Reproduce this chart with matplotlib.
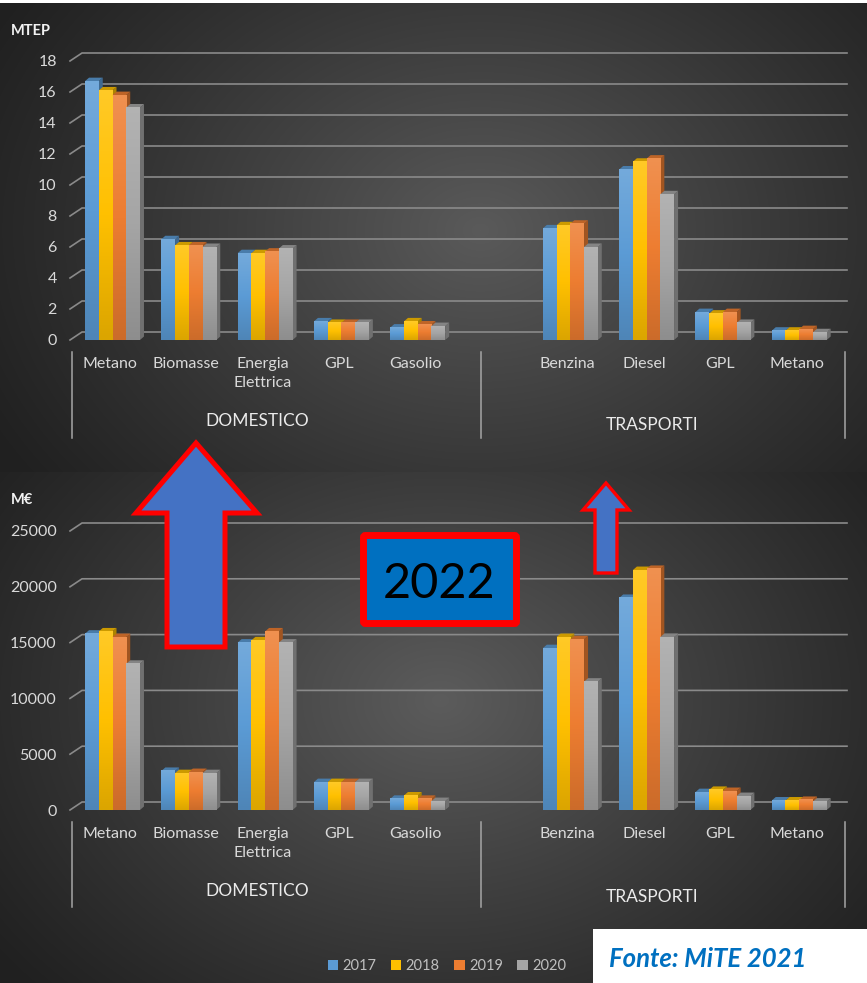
import numpy as np
import matplotlib
matplotlib.use("Agg")
import matplotlib.pyplot as plt
from matplotlib.patches import Polygon, Rectangle, FancyBboxPatch
from matplotlib.colors import LinearSegmentedColormap, to_rgb

plt.rcParams['font.family'] = ['Lato', 'DejaVu Sans']

# ---------------------------------------------------------------- data
categories = ["Metano", "Biomasse", "Energia\nElettrica", "GPL", "Gasolio",
              "Benzina", "Diesel", "GPL", "Metano"]
groups = ["DOMESTICO", "TRASPORTI"]
years = ["2017", "2018", "2019", "2020"]

# energy consumption (MTEP)
mtep_2017 = [16.7, 6.5, 5.6, 1.2, 0.8, 7.2, 11.0, 1.8, 0.6]
mtep_2018 = [16.1, 6.1, 5.6, 1.1, 1.2, 7.4, 11.5, 1.7, 0.6]
mtep_2019 = [15.8, 6.1, 5.7, 1.1, 1.0, 7.5, 11.7, 1.8, 0.7]
mtep_2020 = [15.0, 6.0, 5.9, 1.1, 0.9, 6.0, 9.4, 1.1, 0.5]

# expenditure (M€)
meur_2017 = [15800, 3500, 15000, 2500, 1000, 14500, 19000, 1600, 850]
meur_2018 = [16000, 3300, 15200, 2500, 1300, 15500, 21500, 1800, 850]
meur_2019 = [15500, 3400, 16000, 2500, 1000, 15300, 21600, 1700, 900]
meur_2020 = [13100, 3300, 15000, 2500, 800, 11500, 15500, 1250, 750]

mtep_ticks = [0, 2, 4, 6, 8, 10, 12, 14, 16, 18]
meur_ticks = [0, 5000, 10000, 15000, 20000, 25000]

colors = ["#5B9BD5", "#FFC000", "#ED7D31", "#A5A5A5"]

# ---------------------------------------------------------------- figure
W, H = 867, 983
fig = plt.figure(figsize=(W / 100, H / 100), dpi=100)


def px_rect(x0, y0, x1, y1):
    return [x0 / W, 1 - y1 / H, (x1 - x0) / W, (y1 - y0) / H]


# dark radial background, two panels
bg = fig.add_axes([0, 0, 1, 1], zorder=-10)
yy, xx = np.mgrid[0:H, 0:W]


def radial(cx, cy, rx, ry, lo, hi):
    d = np.sqrt(((xx - cx) / rx) ** 2 + ((yy - cy) / ry) ** 2)
    return lo + (hi - lo) * np.clip(1 - d, 0, 1) ** 1.1


img = np.where(yy < 472, radial(480, 230, 560, 430, 0x20, 0x5a),
               radial(440, 700, 560, 430, 0x20, 0x5c))
img[:3, :] = 255
bg.imshow(np.dstack([img] * 3) / 255, extent=(0, W, H, 0), aspect='auto',
          interpolation='bilinear')
bg.set_xlim(0, W)
bg.set_ylim(H, 0)
bg.set_axis_off()

slot_pos = np.array([0, 1, 2, 3, 4, 6, 7, 8, 9], dtype=float)
XLO, XHI = -0.557, 9.469
BW = 0.18


def draw_chart(rect_px, ymax, ticks, series):
    x0p, y0p, x1p, y1p = rect_px
    ax = fig.add_axes(px_rect(*rect_px), zorder=1)
    ax.patch.set_alpha(0)
    ux = (XHI - XLO) / (x1p - x0p)
    uy = ymax / (y1p - y0p)

    # back-wall gridlines with a short perspective leg on the left
    for v in ticks:
        ax.plot([XLO, XLO + 12 * ux, XHI + 12 * ux],
                [v, v + 8 * uy, v + 8 * uy],
                color="#8a8a8a", lw=1.2, clip_on=False, zorder=1)

    dx, dy = 4 * ux, 3.5 * uy
    containers = []
    for k, (vals, c) in enumerate(zip(series, colors)):
        rgb = np.array(to_rgb(c))
        cmap = LinearSegmentedColormap.from_list(
            "g%d" % k, [rgb * 0.86, rgb, rgb + (1 - rgb) * 0.15])
        xs = slot_pos + (k - 1.5) * BW
        bars = ax.bar(xs, vals, width=BW, color=c, linewidth=0,
                      zorder=11 + 2 * k, label=years[k])
        containers.append(bars)
        for r in bars:
            bx0 = r.get_x()
            bx1 = bx0 + r.get_width()
            h = r.get_height()
            ax.imshow(np.linspace(0, 1, 64).reshape(-1, 1), cmap=cmap,
                      extent=(bx0, bx1, 0, h), origin='lower', aspect='auto',
                      zorder=11.5 + 2 * k, interpolation='bilinear')
            ax.add_patch(Polygon([(bx1, 0), (bx1, h), (bx1 + dx, h + dy),
                                  (bx1 + dx, dy)], closed=True,
                                 fc=rgb * 0.68, ec='none', zorder=10 + 2 * k,
                                 clip_on=False))
            ax.add_patch(Polygon([(bx0, h), (bx1, h), (bx1 + dx, h + dy),
                                  (bx0 + dx, h + dy)], closed=True,
                                 fc=rgb * 0.8, ec='none', zorder=10 + 2 * k,
                                 clip_on=False))

    ax.set_xlim(XLO, XHI)
    ax.set_ylim(0, ymax)
    ax.set_yticks(ticks)
    ax.set_yticklabels([str(t) for t in ticks])
    ax.set_xticks(slot_pos - 2.5 * ux)
    ax.set_xticklabels(categories, linespacing=1.45)
    ax.tick_params(axis='y', length=0, pad=9.5, labelcolor="#d9d9d9",
                   labelsize=11.5)
    ax.tick_params(axis='x', length=0, pad=12, labelcolor="#d9d9d9",
                   labelsize=11.5)
    for s in ax.spines.values():
        s.set_visible(False)
    return ax, containers


ax_top, _ = draw_chart((70, 61, 835, 340), 18, mtep_ticks,
                       [mtep_2017, mtep_2018, mtep_2019, mtep_2020])
ax_bot, bar_sets = draw_chart((70, 531, 835, 810), 25000, meur_ticks,
                              [meur_2017, meur_2018, meur_2019, meur_2020])

# ---------------------------------------------------------------- overlay
ov = fig.add_axes([0, 0, 1, 1], zorder=50)
ov.set_xlim(0, W)
ov.set_ylim(H, 0)
ov.set_axis_off()
ov.patch.set_alpha(0)

ov.text(11, 31, "MTEP", color="#f2f2f2", fontsize=10.5, fontweight='bold',
        va='center', ha='left')
ov.text(11, 500, "M€", color="#f2f2f2", fontsize=10.5, fontweight='bold',
        va='center', ha='left')

for (ya, yb), (gy1, gy2) in [((352, 438), (421, 425)),
                             ((822, 907), (891, 897))]:
    for xs in (72, 481, 845):
        ov.plot([xs, xs], [ya, yb], color="#a6a6a6", lw=1.1)
    ov.text(257, gy1, groups[0], color="#ebebeb", fontsize=12.5,
            ha='center', va='center')
    ov.text(652, gy2, groups[1], color="#ebebeb", fontsize=12.5,
            ha='center', va='center')

# highlight arrows
ov.add_patch(Polygon([(196, 443), (257, 513), (225, 513), (225, 647),
                      (167, 647), (167, 513), (136, 513)], closed=True,
                     fc="#4472C4", ec="#FF0000", lw=3.6, joinstyle='miter'))
ov.add_patch(Polygon([(606, 483), (629, 510), (617, 510), (617, 573),
                      (595, 573), (595, 510), (583, 510)], closed=True,
                     fc="#4472C4", ec="#FF0000", lw=2.4, joinstyle='miter'))

# year badge
ov.add_patch(FancyBboxPatch((363.5, 535.5), 153, 88,
                            boxstyle="round,pad=0,rounding_size=2",
                            fc="#0070C0", ec="#FF0000", lw=5))
ov.text(439, 598, "2022", color="black", fontsize=35, ha='center',
        va='baseline')

# source box
ov.add_patch(Rectangle((593, 929), 274, 54, fc="white", ec='none'))
ov.text(609, 967, "Fonte: MiTE 2021", color="#0070C0", fontsize=18.5,
        fontweight='bold', style='italic', ha='left', va='baseline')

# legend
fig.legend(handles=bar_sets, labels=years, loc='center',
           bbox_to_anchor=(447 / W, 1 - 966 / H), ncol=4, frameon=False,
           handlelength=0.7, handleheight=0.7, handletextpad=0.3,
           columnspacing=1.0, fontsize=10.5, labelcolor="#bfbfbf")

fig.savefig("out.png", dpi=100)
